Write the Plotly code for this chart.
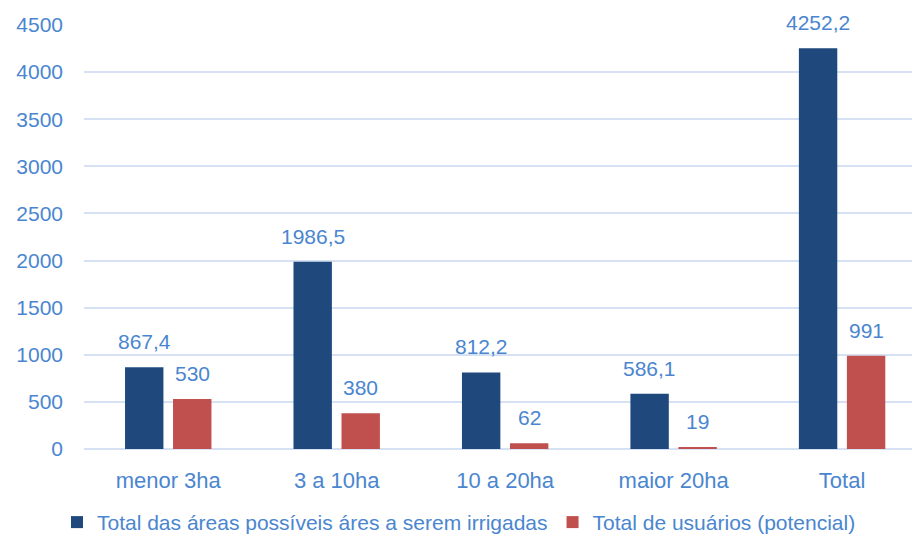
import plotly.graph_objects as go

categories = ["menor 3ha", "3 a 10ha", "10 a 20ha", "maior 20ha", "Total"]
areas = [867.4, 1986.5, 812.2, 586.1, 4252.2]
usuarios = [530, 380, 62, 19, 991]
series_names = ["Total das áreas possíveis áres a serem irrigadas", "Total de usuários (potencial)"]
tick_vals = [0, 500, 1000, 1500, 2000, 2500, 3000, 3500, 4000, 4500]

BLUE = "#1F497D"
RED = "#C0504D"
TXT = "#4A86CF"
GRID = "#D6E2F3"
FONT = "Liberation Sans"


def fmt(v):
    s = ("%.1f" % v).rstrip("0").rstrip(".")
    return s.replace(".", ",")


fig = go.Figure()
fig.add_trace(go.Bar(x=categories, y=areas, name=series_names[0], marker=dict(color=BLUE, line=dict(width=0))))
fig.add_trace(go.Bar(x=categories, y=usuarios, name=series_names[1], marker=dict(color=RED, line=dict(width=0))))

annotations = []
for series, shift in ((areas, -24), (usuarios, 24)):
    for c, v in zip(categories, series):
        annotations.append(dict(x=c, y=v, xref="x", yref="y", text=fmt(v), showarrow=False,
                                xanchor="center", yanchor="bottom", xshift=shift, yshift=12,
                                font=dict(family=FONT, size=21, color=TXT)))

fig.update_layout(
    width=904, height=529,
    margin=dict(l=76, r=0, t=17, b=88),
    paper_bgcolor="white", plot_bgcolor="white",
    barmode="group", bargap=0.43, bargroupgap=0.2,
    font=dict(family=FONT, size=21, color=TXT),
    showlegend=True,
    legend=dict(orientation="h", xref="container", yref="container",
                x=0.0542, xanchor="left", y=0.0275, yanchor="middle",
                font=dict(family=FONT, size=21, color=TXT), traceorder="normal"),
    annotations=annotations,
    xaxis=dict(range=[-0.5, 4.415], showgrid=False, showline=False, ticks="",
               ticklabelstandoff=16,
               tickfont=dict(family=FONT, size=22, color=TXT)),
    yaxis=dict(range=[0, 4500], tickvals=tick_vals, showgrid=True, gridcolor=GRID, gridwidth=1.5,
               zeroline=True, zerolinecolor=GRID, zerolinewidth=2, showline=False,
               ticklabelstandoff=20, tickfont=dict(family=FONT, size=21, color=TXT)),
)

fig.write_html("out.html")
